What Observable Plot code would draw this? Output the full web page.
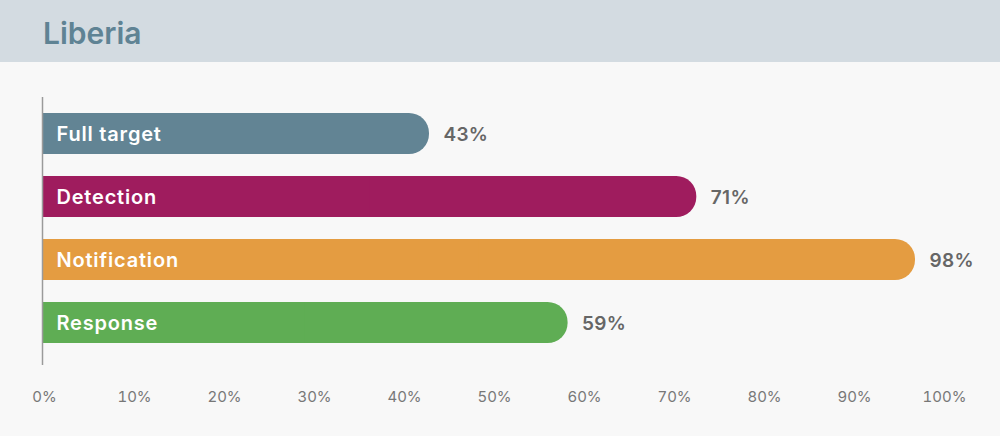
<!DOCTYPE html>
<html><head><meta charset="utf-8">
<script src="https://cdn.jsdelivr.net/npm/d3@7"></script>
<script src="https://cdn.jsdelivr.net/npm/@observablehq/plot@0.6"></script>
<style>
html,body{margin:0;padding:0;background:#f8f8f8;font-family:Inter,"Noto Sans",sans-serif;}
#header{height:62px;background:#d3dbe1;box-sizing:border-box;padding-left:43px;overflow:hidden;}
#header h1{margin:0;font-size:30px;font-weight:600;color:#5f8394;line-height:67px;}
#chart svg{display:block;}
</style></head><body>
<div id="header"><h1>Liberia</h1></div>
<div id="chart"></div>
<script>
const categories = ["Full target", "Detection", "Notification", "Response"];
const barValues = [43, 72.7, 97, 58.4];
const valueLabels = ["43%", "71%", "98%", "59%"];
const colors = ["#628494", "#9f1c5e", "#e49c41", "#5fad54"];
const tickValues = [0, 10, 20, 30, 40, 50, 60, 70, 80, 90, 100];

const data = categories.map((c, i) => ({category: c, value: barValues[i], label: valueLabels[i]}));

const chart = Plot.plot({
  width: 1000,
  height: 374,
  marginLeft: 42,
  marginRight: 58,
  marginTop: 35,
  marginBottom: 71,
  style: {background: "transparent", fontFamily: "Inter, 'Noto Sans', sans-serif", overflow: "visible"},
  x: {domain: [0, 100], axis: null, label: null},
  y: {domain: categories, paddingInner: 0.35, paddingOuter: 0.3, align: 0.42, axis: null, label: null},
  color: {domain: categories, range: colors},
  marks: [
    Plot.barX(data, {x: "value", y: "category", fill: "category", rx: 20}),
    Plot.barX(data, {x1: 0, x2: d => d.value / 2, y: "category", fill: "category"}),
    Plot.ruleX([0], {stroke: "#9a9a9a", strokeWidth: 1.5}),
    Plot.axisX({ticks: tickValues, tickFormat: d => d + "%", tickSize: 0, tickPadding: 26, fontSize: 15, dx: 2, fill: "#777", label: null}),
    Plot.text(data, {x: 0, y: "category", text: "category", dx: 14, dy: 1, textAnchor: "start", fill: "white", fontWeight: 600, fontSize: 20}),
    Plot.text(data, {x: "value", y: "category", text: "label", dx: 14, dy: 1, textAnchor: "start", fill: "#666", fontWeight: 600, fontSize: 19})
  ]
});
d3.select(chart).selectAll("text")
  .filter(function() { return categories.includes(this.textContent); })
  .style("letter-spacing", "0.8px");
d3.select(chart).selectAll("text")
  .filter(function() { return valueLabels.includes(this.textContent); })
  .style("letter-spacing", "0.3px");
document.getElementById("chart").appendChild(chart);
</script>
</body></html>
